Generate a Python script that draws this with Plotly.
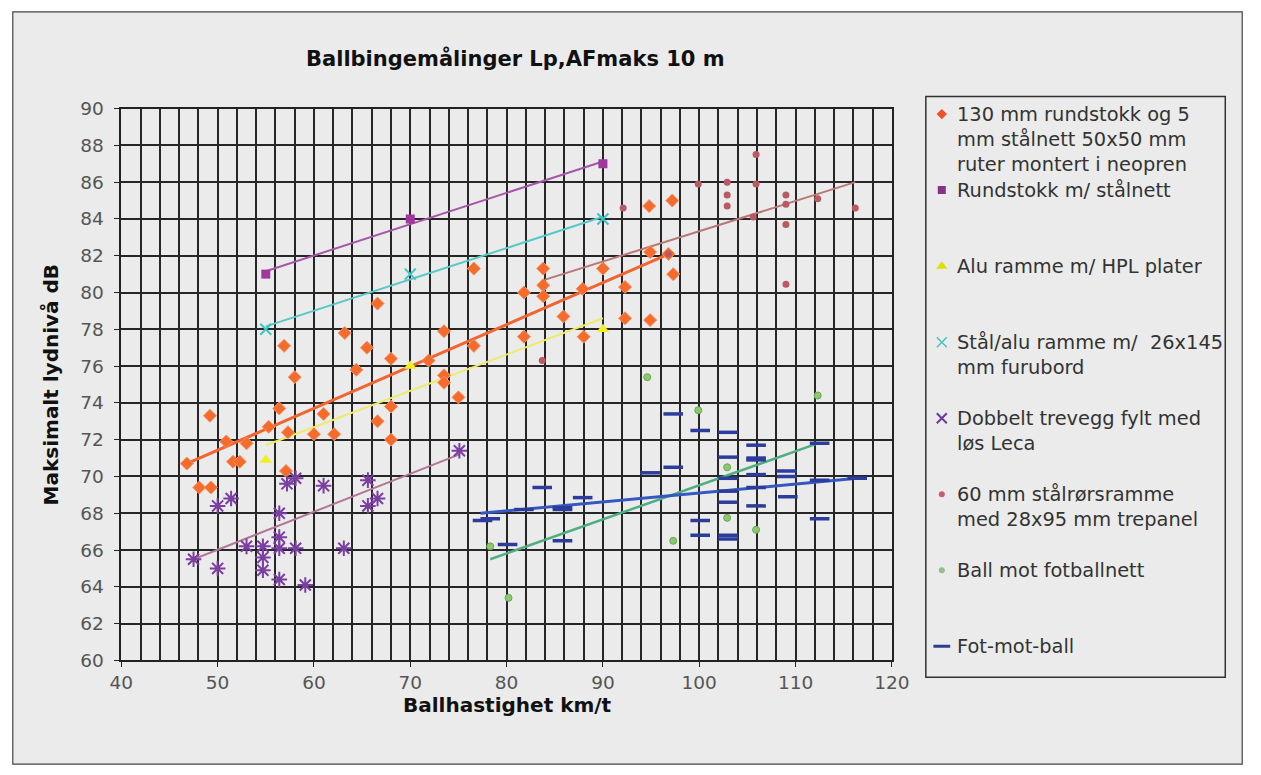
import plotly.graph_objects as go

W, H = 1261, 775

# ---------------- data ----------------
x_rund130 = [46.8, 48.1, 49.2, 49.3, 50.9, 51.6, 52.3, 53.0, 55.3, 56.4, 56.9, 57.3, 57.1, 58.0,
             60.0, 61.0, 62.1, 63.2, 64.4, 65.5, 66.6, 66.6, 68.0, 68.0, 68.0, 71.9, 73.5, 73.5,
             73.5, 75.0, 76.6, 76.6, 81.8, 81.8, 83.8, 83.8, 83.8, 85.9, 87.9, 88.0, 90.0, 92.3,
             92.3, 94.8, 94.9, 94.9, 97.2, 97.3, 96.8]
y_rund130 = [70.7, 69.4, 73.3, 69.4, 71.9, 70.8, 70.8, 71.8, 72.7, 73.7, 77.1, 72.4, 70.3, 75.4,
             72.3, 73.4, 72.3, 77.8, 75.8, 77.0, 79.4, 73.0, 76.4, 73.8, 72.0, 76.3, 77.9, 75.5,
             75.1, 74.3, 81.3, 77.1, 80.0, 77.6, 81.3, 80.4, 79.8, 78.7, 80.2, 77.6, 81.3, 80.3,
             78.6, 84.7, 82.2, 78.5, 85.0, 81.0, 82.1]
trend_x_rund130 = [46.8, 97.3]
trend_y_rund130 = [70.7, 82.2]

x_rundstokk = [55, 70, 90]
y_rundstokk = [81.0, 84.0, 87.0]
trend_x_rundstokk = [55, 90]
trend_y_rundstokk = [81.16, 87.12]

x_alu = [55, 70, 90]
y_alu = [70.9, 76.0, 78.0]
trend_x_alu = [55, 90]
trend_y_alu = [71.7, 78.6]

x_staal = [55, 70, 90]
y_staal = [78.0, 81.0, 84.0]
trend_x_staal = [55, 90]
trend_y_staal = [78.16, 84.12]

x_dobbelt = [47.5, 50.0, 50.0, 51.4, 53.0, 54.7, 54.7, 54.7, 56.4, 56.4, 56.4, 56.4, 57.2, 58.1,
             58.1, 59.1, 61.0, 63.1, 65.6, 65.6, 66.6, 75.1]
y_dobbelt = [65.5, 65.0, 68.4, 68.8, 66.2, 66.2, 65.6, 64.9, 68.0, 66.7, 66.1, 64.4, 69.6, 69.9,
             66.1, 64.1, 69.5, 66.1, 69.8, 68.4, 68.8, 71.4]
trend_x_dobbelt = [47.5, 75.1]
trend_y_dobbelt = [65.5, 71.2]

x_staalror = [83.7, 92.1, 96.8, 99.9, 102.9, 102.9, 102.9, 105.6, 105.9, 105.9, 109.0, 109.0,
              109.0, 109.0, 112.3, 116.2]
y_staalror = [76.3, 84.6, 82.1, 85.9, 86.0, 85.3, 84.7, 84.1, 85.9, 87.5, 85.3, 84.8,
              83.7, 80.45, 85.1, 84.6]
trend_x_staalror = [84.0, 116.2]
trend_y_staalror = [80.7, 86.0]

x_fotballnett = [78.3, 80.2, 94.6, 97.3, 99.9, 102.9, 102.9, 105.9, 112.3]
y_fotballnett = [66.2, 63.4, 75.4, 66.5, 73.6, 70.5, 67.75, 67.1, 74.4]
trend_x_fotballnett = [78.3, 112.3]
trend_y_fotballnett = [65.5, 71.8]

x_fotmotball = [77.5, 78.3, 80.1, 81.8, 83.7, 85.8, 85.8, 85.8, 87.9, 94.9, 97.3, 97.3, 100.1,
                100.1, 100.1, 103.0, 103.0, 103.0, 103.0, 103.0, 103.0, 103.0, 105.9, 105.9,
                105.9, 105.9, 105.9, 105.9, 109.1, 109.1, 109.2, 112.5, 112.5, 112.5, 116.4]
y_fotmotball = [67.6, 67.7, 66.3, 68.2, 69.4, 68.3, 68.2, 66.5, 68.85, 70.2, 73.4, 70.5, 72.5,
                67.6, 66.8, 72.4, 71.05, 69.9, 69.2, 68.6, 66.8, 66.6, 71.7, 71.0, 70.9,
                70.1, 69.4, 68.4, 70.3, 70.0, 68.9, 71.8, 69.8, 67.7, 69.9]
trend_x_fotmotball = [77.3, 116.4]
trend_y_fotmotball = [68.0, 69.9]

legend_labels = [
    "130 mm rundstokk og 5<br>mm stålnett 50x50 mm<br>ruter montert i neopren",
    "Rundstokk m/ stålnett",
    "Alu ramme m/ HPL plater",
    "Stål/alu ramme m/  26x145<br>mm furubord",
    "Dobbelt trevegg fylt med<br>løs Leca",
    "60 mm stålrørsramme<br>med 28x95 mm trepanel",
    "Ball mot fotballnett",
    "Fot-mot-ball",
]

title_text = "Ballbingemålinger Lp,AFmaks 10 m"
x_title = "Ballhastighet km/t"
y_title = "Maksimalt lydnivå dB"

# ---------------- styles ----------------
series = [
    dict(x=x_rund130, y=y_rund130, tx=trend_x_rund130, ty=trend_y_rund130,
         marker=dict(symbol="diamond", size=10, color="#f46b2b", line=dict(color="#f89060", width=1)),
         lsym=dict(symbol="diamond", size=8, color="#f0502a"),
         line=dict(color="#f26430", width=3)),
    dict(x=x_rundstokk, y=y_rundstokk, tx=trend_x_rundstokk, ty=trend_y_rundstokk,
         marker=dict(symbol="square", size=9, color="#a0379e"),
         lsym=dict(symbol="square", size=8, color="#8a2f8a"),
         line=dict(color="#a558a8", width=2)),
    dict(x=x_alu, y=y_alu, tx=trend_x_alu, ty=trend_y_alu,
         marker=dict(symbol="triangle-up", size=11, color="#f0f020"),
         lsym=dict(symbol="triangle-up", size=10, color="#e0e000"),
         line=dict(color="#ecec6a", width=2)),
    dict(x=x_staal, y=y_staal, tx=trend_x_staal, ty=trend_y_staal,
         marker=dict(symbol="x-thin-open", size=11, color="#3fc4c4", line=dict(color="#3fc4c4", width=2)),
         lsym=dict(symbol="x-thin-open", size=10, color="#4cc0c0", line=dict(color="#4cc0c0", width=1.5)),
         line=dict(color="#58c8c8", width=2)),
    dict(x=x_dobbelt, y=y_dobbelt, tx=trend_x_dobbelt, ty=trend_y_dobbelt,
         marker=dict(symbol="asterisk-open", size=13, color="#7a3fa0", line=dict(color="#7a3fa0", width=2)),
         lsym=dict(symbol="x-thin-open", size=10, color="#6a3a9a", line=dict(color="#6a3a9a", width=2)),
         line=dict(color="#b07896", width=2)),
    dict(x=x_staalror, y=y_staalror, tx=trend_x_staalror, ty=trend_y_staalror,
         marker=dict(symbol="circle", size=7, color="#b85a62"),
         lsym=dict(symbol="circle", size=6, color="#c06070"),
         line=dict(color="#b87878", width=2)),
    dict(x=x_fotballnett, y=y_fotballnett, tx=trend_x_fotballnett, ty=trend_y_fotballnett,
         marker=dict(symbol="circle", size=7, color="#8cc870", line=dict(color="#6aa850", width=1)),
         lsym=dict(symbol="circle", size=6, color="#90c090"),
         line=dict(color="#4fae80", width=2.5)),
    dict(x=x_fotmotball, y=y_fotmotball, tx=trend_x_fotmotball, ty=trend_y_fotmotball,
         marker=dict(symbol="line-ew-open", size=14, color="#2c3c9c", line=dict(color="#2c3c9c", width=3.5)),
         lsym=dict(symbol="line-ew-open", size=12, color="#303c90", line=dict(color="#303c90", width=3)),
         line=dict(color="#3558c0", width=3)),
]

# ---------------- layout geometry (target picture pixels) ----------------
PX0, PX1, PY0, PY1 = 120, 892, 107, 660       # plot area
LX0, LX1, LY0, LY1 = 926, 1226, 95, 677       # legend box
LEG_FIRST, LEG_STEP = 112.5, 76.2

# the photographed picture shows the page slightly reduced and offset;
# map target-picture pixels back to page pixels
SX, SY, OX, OY = 0.978, 0.975, 10.5, 9.2


def fx(px):
    return ((px - OX) / SX) / W


def fy(py):
    return 1 - ((py - OY) / SY) / H


fig = go.Figure()

for s in series:
    fig.add_trace(go.Scatter(x=s["tx"], y=s["ty"], mode="lines", line=s["line"],
                             showlegend=False, hoverinfo="skip", xaxis="x", yaxis="y"))
for s, name in zip(series, legend_labels):
    fig.add_trace(go.Scatter(x=s["x"], y=s["y"], mode="markers", marker=s["marker"],
                             name=name.replace("<br>", " "), showlegend=False,
                             xaxis="x", yaxis="y"))

# legend swatches drawn on a helper axis
leg_y = [LEG_FIRST + i * LEG_STEP for i in range(len(series))]
for s, yy in zip(series, leg_y):
    fig.add_trace(go.Scatter(x=[942], y=[yy], mode="markers", marker=s["lsym"],
                             showlegend=False, hoverinfo="skip", xaxis="x2", yaxis="y2"))

annotations = []
for lab, yy in zip(legend_labels, leg_y):
    annotations.append(dict(x=955, y=yy - 13, xref="x2", yref="y2", text=lab, showarrow=False,
                            xanchor="left", yanchor="top", align="left",
                            font=dict(family="DejaVu Sans", size=19.4, color="#333333")))

annotations.append(dict(x=fx(515), y=fy(57), xref="paper", yref="paper", text="<b>" + title_text + "</b>",
                        showarrow=False, xanchor="center", yanchor="middle",
                        font=dict(family="DejaVu Sans", size=21, color="#111111")))
annotations.append(dict(x=fx(507), y=fy(705), xref="paper", yref="paper", text="<b>" + x_title + "</b>",
                        showarrow=False, xanchor="center", yanchor="middle",
                        font=dict(family="DejaVu Sans", size=20, color="#111111")))
annotations.append(dict(x=fx(50), y=fy(383), xref="paper", yref="paper", text="<b>" + y_title + "</b>",
                        showarrow=False, xanchor="center", yanchor="middle", textangle=-90,
                        font=dict(family="DejaVu Sans", size=20, color="#111111")))

shapes = [
    dict(type="rect", xref="paper", yref="paper", x0=0.8 / W, x1=1 - 0.8 / W, y0=0.8 / H, y1=1 - 0.8 / H,
         fillcolor="#eaebea", line=dict(color="#444444", width=1.2), layer="below"),
    dict(type="rect", xref="paper", yref="paper", x0=fx(LX0), x1=fx(LX1), y0=fy(LY1), y1=fy(LY0),
         fillcolor="rgba(0,0,0,0)", line=dict(color="#333333", width=1.5), layer="above"),
]

tickfont = dict(family="DejaVu Sans", size=18.5, color="#555555")
fig.update_layout(
    width=W, height=H, autosize=False,
    margin=dict(l=0, r=0, t=0, b=0),
    paper_bgcolor="white",
    plot_bgcolor="#c8cbce",
    showlegend=False,
    shapes=shapes,
    annotations=annotations,
    xaxis=dict(domain=[fx(PX0), fx(PX1)], range=[40, 120], tick0=40, dtick=10,
               ticks="outside", ticklen=5, tickcolor="#222222", tickfont=tickfont,
               showgrid=True, gridcolor="#262626", gridwidth=1.6,
               minor=dict(dtick=2, showgrid=True, gridcolor="#262626", gridwidth=1.6),
               showline=True, linecolor="#222222", linewidth=1.5, mirror=True,
               zeroline=False, fixedrange=True),
    yaxis=dict(domain=[fy(PY1), fy(PY0)], range=[60, 90], tick0=60, dtick=2,
               ticks="outside", ticklen=6, tickcolor="#222222", tickfont=tickfont,
               ticklabelstandoff=6,
               showgrid=True, gridcolor="#262626", gridwidth=1.6,
               showline=True, linecolor="#222222", linewidth=1.5, mirror=True,
               zeroline=False, fixedrange=True),
    xaxis2=dict(domain=[fx(LX0), fx(LX1)], range=[LX0, LX1], visible=False, fixedrange=True),
    yaxis2=dict(domain=[fy(LY1), fy(LY0)], range=[LY1, LY0], visible=False, fixedrange=True),
)

fig.write_html(
    "out.html",
    config={"displayModeBar": False},
    post_script=("document.documentElement.style.margin='0';document.documentElement.style.padding='0';"
                 "document.documentElement.style.overflow='hidden';"
                 "document.body.style.margin='0';document.body.style.padding='0';"
                 "document.body.style.overflow='hidden';"),
)
